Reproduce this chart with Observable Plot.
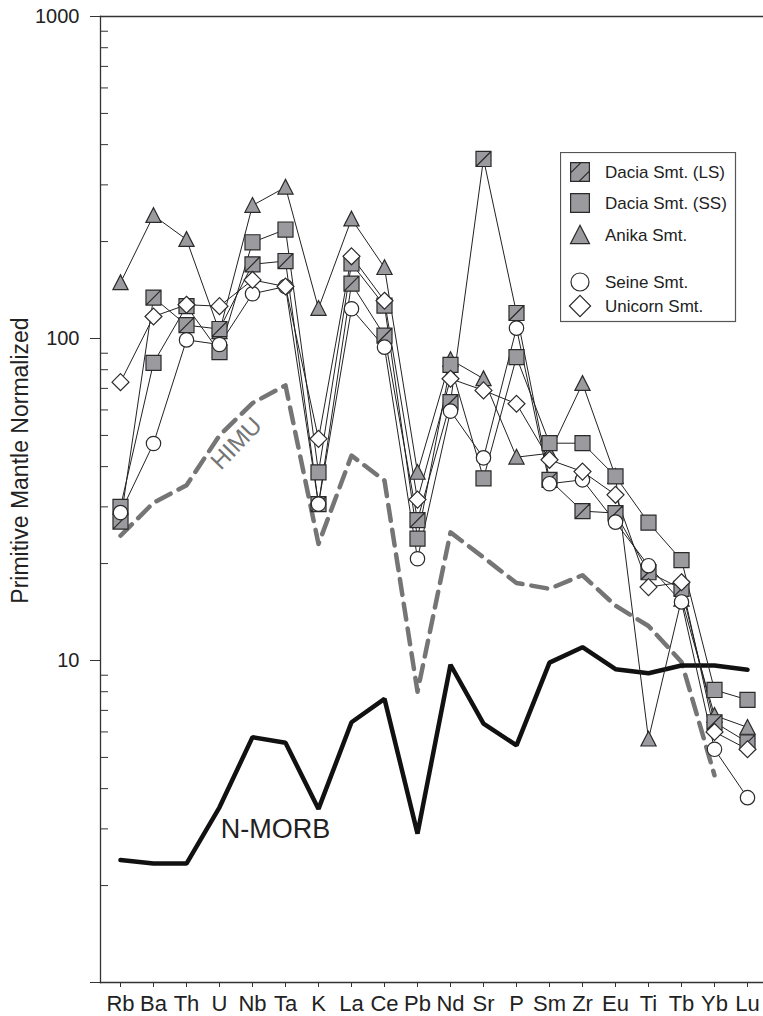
<!DOCTYPE html>
<html><head><meta charset="utf-8">
<script src="https://cdn.jsdelivr.net/npm/d3@7"></script>
<script src="https://cdn.jsdelivr.net/npm/@observablehq/plot@0.6"></script>
<style>
body{margin:0;background:#fff;}
#chart{position:relative;width:763px;height:1016px;font-family:"Liberation Sans",Arial,Helvetica,sans-serif;}
#legend{position:absolute;left:560px;top:152px;}
</style></head><body><div id="chart"></div>
<script>
const elements = ["Rb","Ba","Th","U","Nb","Ta","K","La","Ce","Pb","Nd","Sr","P","Sm","Zr","Eu","Ti","Tb","Yb","Lu"];
const daciaLS = [27,134,110,107,170,174,30.6,148,102,27.3,63.4,361,120,36.4,29.1,28.7,18.8,16.7,6.43,5.57];
const daciaSS = [30,84,126,90.7,199,218,38.4,171,126.5,23.9,82.8,36.8,87.5,47.3,47.3,37.3,26.8,20.5,8.1,7.55];
const anika = [149,241,203,105,259,295,124,235,166,38.4,86,75,42.8,44,72.5,37.3,5.7,15.5,6.75,6.2];
const seine = [28.8,47.2,99,95.8,137.7,145,30.6,123.7,94,20.7,59.5,42.6,107.7,35.4,36.4,26.9,19.7,15.2,5.3,3.75];
const unicorn = [73.2,117,127.3,126,152,145,48.8,180,131,31.6,75,69,62.7,42,38.6,32.7,16.9,17.5,6.0,5.3];
const nmorb = [2.40,2.34,2.34,3.50,5.78,5.55,3.46,6.43,7.6,2.9,9.7,6.37,5.45,9.85,11.0,9.4,9.13,9.65,9.65,9.36];
const himu = [24.4,30.9,35,50,63,71.5,23,43.3,36.2,8,25,20.9,17.4,16.7,18.4,14.8,12.8,9.9,4.4,null];
const seriesNames = ["Dacia Smt. (LS)","Dacia Smt. (SS)","Anika Smt.","Seine Smt.","Unicorn Smt."];
const majorTicks = [1,10,100,1000];
const minorTicks = [2,3,4,5,6,7,8,9,20,30,40,50,60,70,80,90,200,300,400,500,600,700,800,900];
const yLabel = "Primitive Mantle Normalized";

const FILL = "#9b9b9f", EDGE = "#2a2a2a";
const symSquare = {draw(c, s){const r=Math.sqrt(s/Math.PI)*0.94; c.rect(-r,-r,2*r,2*r);}};
const symHatch = {draw(c, s){const r=Math.sqrt(s/Math.PI)*0.94; c.rect(-r,-r,2*r,2*r); c.moveTo(-r,r); c.lineTo(r,-r);}};
const symHatch2 = {draw(c, s){const r=Math.sqrt(s/Math.PI)*0.94; c.rect(-r,-r,2*r,2*r); c.moveTo(-r,0.1*r); c.lineTo(0.1*r,-r); c.moveTo(-0.1*r,r); c.lineTo(r,-0.1*r);}};
const symTri = {draw(c, s){const r=Math.sqrt(s/Math.PI); c.moveTo(0,-0.98*r); c.lineTo(0.95*r,0.86*r); c.lineTo(-0.95*r,0.86*r); c.closePath();}};
const symCircle = {draw(c, s){const r=Math.sqrt(s/Math.PI)*0.9; c.moveTo(r,0); c.arc(0,0,r,0,2*Math.PI);}};
const symDiamond = {draw(c, s){const r=Math.sqrt(s/Math.PI)*1.06; c.moveTo(0,-r); c.lineTo(r,0); c.lineTo(0,r); c.lineTo(-r,0); c.closePath();}};

const seriesVals = [daciaLS, daciaSS, anika, seine, unicorn];
const rows = seriesNames.flatMap((n,i)=>elements.map((e,j)=>({series:n, element:e, value:seriesVals[i][j]})));
const refRows = elements.map((e,j)=>({element:e, nmorb:nmorb[j], himu:himu[j]}));
const sel = n => rows.filter(d=>d.series===n);

const style = [
  {name:"Anika Smt.", symbol:symTri, fill:FILL},
  {name:"Dacia Smt. (SS)", symbol:symSquare, fill:FILL},
  {name:"Dacia Smt. (LS)", symbol:symHatch, fill:FILL},
  {name:"Seine Smt.", symbol:symCircle, fill:"white"},
  {name:"Unicorn Smt.", symbol:symDiamond, fill:"white"}
];

const plot = Plot.plot({
  width:763, height:1016, marginLeft:100, marginRight:0, marginTop:16, marginBottom:34,
  style:{fontFamily:'"Liberation Sans",Arial,Helvetica,sans-serif', color:"#222", background:"white", overflow:"visible"},
  x:{type:"point", domain:elements, range:[116,751], padding:0},
  y:{type:"log", domain:[1,1000]},
  marks:[
    Plot.frame({anchor:"left", stroke:"#333", strokeWidth:1.3}),
    Plot.frame({anchor:"top", stroke:"#333", strokeWidth:1.3}),
    Plot.frame({anchor:"bottom", stroke:"#333", strokeWidth:1.3}),
    Plot.axisY({ticks:majorTicks, tickSize:10, tickPadding:11, fontSize:20, tickFormat:d=>d===1?"":String(d), label:null, stroke:"#333"}),
    Plot.axisY({ticks:minorTicks, tickSize:8, dx:8, tickFormat:()=>"", label:null, stroke:"#333"}),
    Plot.axisX({tickSize:5, tickPadding:8, fontSize:22, label:null, stroke:"#333"}),
    Plot.text([yLabel], {frameAnchor:"left", textAnchor:"middle", dx:-80, dy:-39, rotate:-90, fontSize:23, fill:"#222"}),
    Plot.line(refRows, {x:"element", y:"himu", stroke:"#757575", strokeWidth:4.5, strokeDasharray:"16,9", defined:d=>d.himu!=null}),
    Plot.line(refRows, {x:"element", y:"nmorb", stroke:"#111", strokeWidth:4.5, strokeLinejoin:"miter"}),
    Plot.text([{element:"U", v:47.2}], {x:"element", y:"v", text:()=>"HIMU", dx:17, rotate:-46, fontSize:24, fill:"#757575"}),
    Plot.text([{element:"Nb", v:3.0}], {x:"element", y:"v", text:()=>"N-MORB", dx:23, fontSize:27, fill:"#222"}),
    Plot.line(rows, {x:"element", y:"value", z:"series", stroke:"#222", strokeWidth:1}),
    ...style.map(s=>Plot.dot(sel(s.name), {x:"element", y:"value", symbol:s.symbol, r:8, fill:s.fill, stroke:EDGE, strokeWidth:1.2}))
  ]
});
document.getElementById("chart").appendChild(plot);

// legend
const legendOrder = [
  {name:"Dacia Smt. (LS)", sym:symHatch2, fill:FILL, y:20},
  {name:"Dacia Smt. (SS)", sym:symSquare, fill:FILL, y:51},
  {name:"Anika Smt.", sym:symTri, fill:FILL, y:83},
  {name:"Seine Smt.", sym:symCircle, fill:"white", y:130},
  {name:"Unicorn Smt.", sym:symDiamond, fill:"white", y:154}
];
const lg = d3.select("#chart").append("svg").attr("id","legend").attr("width",177).attr("height",171);
lg.append("rect").attr("x",0.5).attr("y",0.5).attr("width",175).attr("height",169).attr("fill","white").attr("stroke","#555").attr("stroke-width",1.2);
const item = lg.selectAll("g").data(legendOrder).join("g").attr("transform",d=>`translate(0,${d.y})`);
item.append("path").attr("transform","translate(20,0)").attr("d",d=>d3.symbol(d.sym, Math.PI*100)()).attr("fill",d=>d.fill).attr("stroke",EDGE).attr("stroke-width",1.2);
item.append("text").attr("x",45).attr("dy","0.35em").attr("font-size",17).attr("fill","#222").attr("font-family",'"Liberation Sans",Arial,sans-serif').text(d=>d.name);
</script></body></html>
